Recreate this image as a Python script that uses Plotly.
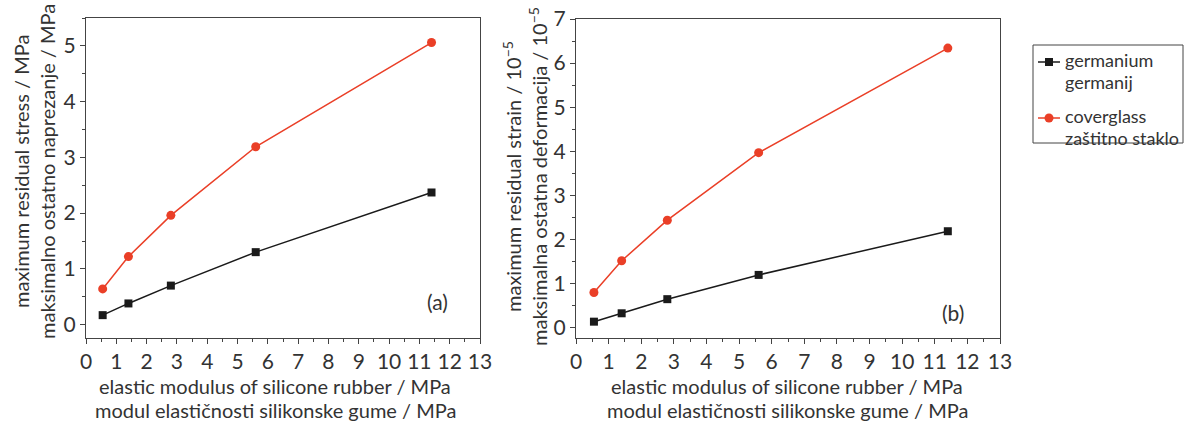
import plotly.graph_objects as go
from plotly.subplots import make_subplots

modulus = [0.55, 1.4, 2.8, 5.6, 11.4]
stress_germanium = [0.17, 0.38, 0.70, 1.30, 2.37]
stress_coverglass = [0.64, 1.22, 1.96, 3.19, 5.06]
strain_germanium = [0.14, 0.33, 0.65, 1.20, 2.19]
strain_coverglass = [0.80, 1.52, 2.44, 3.97, 6.34]

legend_ge = ["germanium", "germanij"]
legend_cg = ["coverglass", "zaštitno staklo"]
xtitle = ["elastic modulus of silicone rubber / MPa", "modul elastičnosti silikonske gume / MPa"]
ytitle_a = ["maximum residual stress / MPa", "maksimalno ostatno naprezanje / MPa"]
ytitle_b = ["maximum residual strain / 10<sup>−5</sup>", "maksimalna ostatna deformacija / 10<sup>−5</sup>"]

FONT = "Lato"
TXT = "#333333"
BLACK = "#1a1a1a"
RED = "#ea3f27"
W, H = 1184, 421

def px(x):
    return x / W

def py(y):
    return (H - y) / H

fig = make_subplots(rows=1, cols=2)

for col, (ge, cg) in enumerate([(stress_germanium, stress_coverglass),
                                 (strain_germanium, strain_coverglass)], start=1):
    fig.add_trace(go.Scatter(x=modulus, y=ge, mode="lines+markers", name="germanium",
                             line=dict(color=BLACK, width=1.5),
                             marker=dict(symbol="square", size=8, color=BLACK),
                             showlegend=False), row=1, col=col)
    fig.add_trace(go.Scatter(x=modulus, y=cg, mode="lines+markers", name="coverglass",
                             line=dict(color=RED, width=1.5),
                             marker=dict(symbol="circle", size=9, color=RED),
                             showlegend=False), row=1, col=col)

axis_common = dict(showline=True, linecolor="#444", linewidth=1, mirror=True,
                   ticks="outside", ticklen=5, tickcolor="#444", showgrid=False,
                   zeroline=False, automargin=False,
                   tickfont=dict(size=21, color=TXT, family=FONT),
                   minor=dict(ticks="outside", ticklen=3, tickcolor="#444", dtick=0.5))

fig.update_xaxes(**axis_common, range=[0, 13], dtick=1, tick0=0)
fig.update_yaxes(**axis_common, dtick=1, tick0=0)

fig.update_layout(
    xaxis=dict(domain=[px(86), px(480)]),
    xaxis2=dict(domain=[px(576), px(1000)]),
    yaxis=dict(domain=[py(338), py(18)], range=[-0.24, 5.5]),
    yaxis2=dict(domain=[py(338), py(19)], range=[-0.23, 7]),
    width=W, height=H,
    margin=dict(l=0, r=0, t=0, b=0),
    plot_bgcolor="white", paper_bgcolor="white",
    font=dict(family=FONT, color=TXT),
    showlegend=False,
)

tfont = dict(size=20, color=TXT, family=FONT)

# axis titles
for cx in (275, 787):
    for text, yy in zip(xtitle, (386, 410)):
        fig.add_annotation(x=px(cx), y=py(yy), xref="paper", yref="paper", text=text,
                           showarrow=False, xanchor="center", yanchor="middle", font=tfont)
for (x1, x2, yc), lines in (((21, 47, 172), ytitle_a), ((512, 538, 177), ytitle_b)):
    for text, xx in zip(lines, (x1, x2)):
        fig.add_annotation(x=px(xx), y=py(yc), xref="paper", yref="paper", text=text,
                           showarrow=False, xanchor="center", yanchor="middle",
                           textangle=-90, font=tfont)

fig.add_annotation(x=11.6, y=0.41, xref="x", yref="y", text="(a)", showarrow=False,
                   font=dict(size=21, color=TXT, family=FONT))
fig.add_annotation(x=11.56, y=0.34, xref="x2", yref="y2", text="(b)", showarrow=False,
                   font=dict(size=21, color=TXT, family=FONT))

# legend box
fig.add_shape(type="rect", xref="paper", yref="paper", x0=px(1033), x1=px(1183),
              y0=py(143), y1=py(45), line=dict(color="#444", width=1), fillcolor="white")
lfont = dict(size=18, color=TXT, family=FONT)
for color, sym_y, lines, sym in ((BLACK, 62, legend_ge, "square"), (RED, 118, legend_cg, "circle")):
    fig.add_shape(type="line", xref="paper", yref="paper", x0=px(1038), x1=px(1060),
                  y0=py(sym_y), y1=py(sym_y), line=dict(color=color, width=1.5))
    r = 4 if sym == "square" else 4.5
    fig.add_shape(type="rect" if sym == "square" else "circle", xref="paper", yref="paper",
                  x0=px(1049 - r), x1=px(1049 + r), y0=py(sym_y + r), y1=py(sym_y - r),
                  line=dict(color=color, width=0), fillcolor=color)
    for i, text in enumerate(lines):
        fig.add_annotation(x=px(1063), y=py(sym_y - 2 + i * 22), xref="paper", yref="paper",
                           text=text, showarrow=False, xanchor="left", yanchor="middle",
                           font=lfont)

fig.write_html("out.html", config={"displayModeBar": False},
               post_script="document.body.style.margin='0';document.body.style.overflow='hidden';")
